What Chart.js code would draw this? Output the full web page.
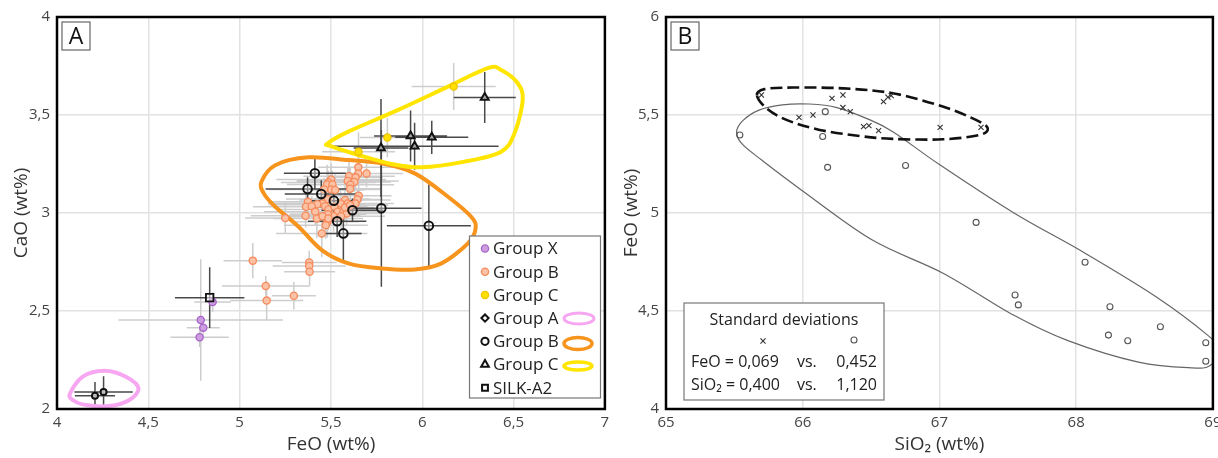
<!DOCTYPE html>
<html><head><meta charset="utf-8">
<script src="https://cdn.jsdelivr.net/npm/chart.js@4.4.0/dist/chart.umd.min.js"></script>
<style>
body{margin:0;background:#fff;width:1218px;height:458px;overflow:hidden;position:relative}
#wa{position:absolute;left:0;top:0;width:612px;height:458px}
#wb{position:absolute;left:612px;top:0;width:606px;height:458px}
</style></head>
<body>
<div id="wa"><canvas id="ca"></canvas></div>
<div id="wb"><canvas id="cb"></canvas></div>
<script>
// ---------- Tick labels ----------
const ticksAX=[4,4.5,5,5.5,6,6.5,7], labelsAX=['4','4,5','5','5,5','6','6,5','7'];
const ticksAY=[2,2.5,3,3.5,4], labelsAY=['2','2,5','3','3,5','4'];
const ticksBX=[65,66,67,68,69], labelsBX=['65','66','67','68','69'];
const ticksBY=[4,4.5,5,5.5,6], labelsBY=['4','4,5','5','5,5','6'];

// ---------- Panel A data (FeO, CaO wt%) ----------
const gxFeO=[4.852,4.787,4.801,4.781], gxCaO=[2.546,2.454,2.415,2.366];
const gxFeOErr=[0.10,0.45,0.09,0.16], gxCaOErr=[0.05,0.31,0.04,0.05];

const gbFeO=[5.650,5.695,5.650,5.599,5.635,5.592,5.628,5.606,5.605,5.501,5.486,5.479,5.508,5.501,5.523,5.463,5.652,5.645,5.634,5.577,5.592,5.552,5.483,5.455,5.425,5.374,5.363,5.395,5.468,5.486,5.519,5.537,5.568,5.586,5.514,5.483,5.414,5.423,5.454,5.481,5.472,5.361,5.250,5.450,5.486,5.577,5.605,5.555,5.072,5.143,5.148,5.297,5.381,5.381,5.383];
const gbCaO=[3.233,3.202,3.202,3.188,3.182,3.163,3.158,3.144,3.124,3.171,3.156,3.146,3.146,3.120,3.117,3.120,3.088,3.069,3.049,3.066,3.049,3.049,3.071,3.049,3.045,3.057,3.032,3.035,3.035,3.018,3.032,3.006,3.006,2.998,2.984,2.994,3.006,2.972,2.984,2.955,2.938,2.986,2.974,2.896,2.972,3.028,3.040,2.984,2.757,2.628,2.553,2.578,2.748,2.730,2.700];
const gbFeOErr=[0.22,0.20,0.18,0.25,0.15,0.28,0.20,0.24,0.17,0.30,0.26,0.22,0.19,0.27,0.16,0.30,0.18,0.14,0.21,0.25,0.20,0.28,0.23,0.30,0.26,0.22,0.29,0.24,0.20,0.27,0.18,0.22,0.15,0.19,0.26,0.21,0.28,0.24,0.20,0.17,0.23,0.30,0.22,0.25,0.19,0.16,0.21,0.24,0.16,0.24,0.20,0.12,0.15,0.20,0.14];
const gbCaOErr=[0.06,0.07,0.05,0.08,0.06,0.07,0.05,0.09,0.06,0.08,0.06,0.10,0.07,0.05,0.08,0.06,0.07,0.05,0.06,0.09,0.06,0.07,0.08,0.05,0.07,0.06,0.08,0.05,0.07,0.06,0.09,0.07,0.05,0.06,0.08,0.06,0.07,0.10,0.06,0.08,0.07,0.06,0.08,0.12,0.06,0.07,0.05,0.07,0.09,0.05,0.10,0.07,0.06,0.05,0.07];

const gcFeO=[6.172,5.809,5.651], gcCaO=[3.645,3.385,3.312];
const gcFeOErr=[0.23,0.15,0.20], gcCaOErr=[0.12,0.10,0.10];

const gaFeO=[4.208,4.255], gaCaO=[2.068,2.087];
const gaFeOErr=[0.11,0.16], gaCaOErr=[0.07,0.08];

const gbkFeO=[5.412,5.372,5.447,5.516,5.618,5.776,5.534,5.568,6.036];
const gbkCaO=[3.203,3.122,3.097,3.063,3.014,3.024,2.958,2.896,2.935];
const gbkFeOErr=[0.17,0.23,0.20,0.15,0.17,0.22,0.16,0.10,0.23];
const gbkCaOErr=[0.08,0.06,0.07,0.07,0.06,0.40,0.08,0.15,0.21];

const gckFeO=[6.342,5.936,6.052,5.774,5.958], gckCaO=[3.589,3.393,3.386,3.332,3.341];
const gckFeOErr=[0.17,0.20,0.20,0.15,0.46], gckCaOErr=[0.13,0.13,0.085,0.25,0.12];

const silkFeO=[4.836], silkCaO=[2.568], silkFeOErr=[0.19], silkCaOErr=[0.155];

// outlines (traced)
const pinkFeO=[4.072,4.141,4.259,4.377,4.446,4.396,4.286,4.159,4.086];
const pinkCaO=[2.080,2.165,2.195,2.165,2.106,2.046,2.015,2.020,2.046];
const orangeFeO=[5.119,5.195,5.377,5.595,5.777,5.959,6.141,6.268,6.292,6.250,6.105,5.959,5.777,5.595,5.450,5.323,5.195,5.132];
const orangeCaO=[3.159,3.244,3.284,3.270,3.253,3.202,3.083,2.981,2.921,2.845,2.743,2.712,2.717,2.743,2.811,2.930,3.032,3.100];
const yellowFeO=[5.483,5.595,5.868,6.141,6.359,6.432,6.523,6.550,6.505,6.432,6.232,5.995,5.832,5.650,5.495];
const yellowCaO=[3.356,3.415,3.526,3.645,3.739,3.730,3.662,3.577,3.407,3.313,3.262,3.233,3.250,3.296,3.342];

// ---------- Panel B data (SiO2, FeO wt%) ----------
const crossSiO2=[65.698,65.973,66.075,66.214,66.294,66.294,66.348,66.445,66.484,66.555,66.591,66.623,66.647,67.005,67.304];
const crossFeO=[5.602,5.488,5.500,5.585,5.602,5.538,5.517,5.441,5.446,5.420,5.568,5.591,5.599,5.437,5.437];
const circSiO2=[65.540,66.165,66.146,66.182,66.752,67.268,68.065,67.553,67.577,68.247,68.616,68.236,68.377,68.948,68.948];
const circFeO=[5.398,5.517,5.390,5.233,5.242,4.952,4.749,4.582,4.531,4.522,4.420,4.377,4.348,4.338,4.244];

const dashSiO2=[65.665,65.720,65.929,66.294,66.659,67.024,67.267,67.353,67.292,67.024,66.659,66.416,66.124,65.881,65.735];
const dashFeO=[5.600,5.632,5.640,5.636,5.611,5.543,5.475,5.432,5.398,5.376,5.378,5.393,5.424,5.475,5.534];
const solidSiO2=[65.516,65.560,65.680,65.850,66.050,66.250,66.465,66.659,67.000,67.545,68.065,68.584,68.961,69.050,68.980,68.844,68.455,67.935,67.545,67.026,66.506,65.987,65.700,65.560];
const solidFeO=[5.410,5.470,5.525,5.552,5.556,5.538,5.483,5.415,5.247,5.000,4.795,4.573,4.377,4.300,4.222,4.210,4.239,4.350,4.478,4.693,4.863,5.119,5.270,5.350];

const legendLabels=['Group X','Group B','Group C','Group A','Group B','Group C','SILK-A2'];
const stdTitle='Standard deviations';
const stdRows=[['FeO = 0,069','vs.','0,452'],['SiO\u2082 = 0,400','vs.','1,120']];

// ---------- helpers ----------
const F='"Open Sans","Noto Sans",sans-serif';
const pts=(xs,ys)=>xs.map((x,i)=>({x,y:ys[i]}));

function closedCurve(ctx,p){
  const n=p.length;
  ctx.beginPath();ctx.moveTo(p[0][0],p[0][1]);
  for(let i=0;i<n;i++){
    const p0=p[(i-1+n)%n],p1=p[i],p2=p[(i+1)%n],p3=p[(i+2)%n];
    ctx.bezierCurveTo(p1[0]+(p2[0]-p0[0])/6,p1[1]+(p2[1]-p0[1])/6,
                      p2[0]-(p3[0]-p1[0])/6,p2[1]-(p3[1]-p1[1])/6,p2[0],p2[1]);
  }
  ctx.closePath();ctx.stroke();
}
function marker(ctx,style,x,y,r,fill,stroke,lw){
  ctx.save();ctx.lineWidth=lw;ctx.strokeStyle=stroke;ctx.fillStyle=fill;ctx.beginPath();
  if(style==='circle'){ctx.arc(x,y,r,0,Math.PI*2);}
  else if(style==='triangle'){ctx.moveTo(x,y-r);ctx.lineTo(x+r*0.87,y+r*0.5);ctx.lineTo(x-r*0.87,y+r*0.5);ctx.closePath();}
  else if(style==='rect'){ctx.rect(x-r*0.7,y-r*0.7,r*1.4,r*1.4);}
  else if(style==='rectRot'){ctx.moveTo(x,y-r);ctx.lineTo(x+r,y);ctx.lineTo(x,y+r);ctx.lineTo(x-r,y);ctx.closePath();}
  else if(style==='crossRot'){const d=r*0.7;ctx.moveTo(x-d,y-d);ctx.lineTo(x+d,y+d);ctx.moveTo(x+d,y-d);ctx.lineTo(x-d,y+d);ctx.stroke();ctx.restore();return;}
  if(fill)ctx.fill();ctx.stroke();ctx.restore();
}

function axis(min,max,ticks,labels,title,isX,fit,tpad){
  return {type:'linear',min,max,
    afterBuildTicks(s){s.ticks=ticks.map(v=>({value:v}));},
    ticks:{callback:(v,i)=>labels[i],font:{family:F,size:15},color:'#444',padding:isX?5:7,maxRotation:0,autoSkip:false},
    grid:{color:'#e2e2e2',lineWidth:1.5,drawTicks:false},
    border:{display:false},
    title:{display:true,text:title,font:{family:F,size:19},color:'#333',padding:tpad},
    afterFit(s){if(isX)s.height=fit;else s.width=fit;s.paddingLeft=0;s.paddingRight=0;s.paddingTop=0;s.paddingBottom=0;}
  };
}

function overlay(errGroups,outlines,after){
  return {id:'overlay',
    beforeDatasetsDraw(chart){
      const {ctx,chartArea:a,scales:{x:sx,y:sy}}=chart;
      ctx.save();ctx.beginPath();ctx.rect(a.left,a.top,a.width,a.height);ctx.clip();
      errGroups.forEach(g=>{
        ctx.strokeStyle=g.color;ctx.lineWidth=1.5;ctx.beginPath();
        g.x.forEach((xv,i)=>{
          const yv=g.y[i],px=sx.getPixelForValue(xv),py=sy.getPixelForValue(yv);
          ctx.moveTo(sx.getPixelForValue(xv-g.xe[i]),py);ctx.lineTo(sx.getPixelForValue(xv+g.xe[i]),py);
          ctx.moveTo(px,sy.getPixelForValue(yv-g.ye[i]));ctx.lineTo(px,sy.getPixelForValue(yv+g.ye[i]));
        });
        ctx.stroke();
      });
      outlines.forEach(o=>{
        ctx.strokeStyle=o.color;ctx.lineWidth=o.width;ctx.setLineDash(o.dash||[]);
        closedCurve(ctx,o.x.map((xv,i)=>[sx.getPixelForValue(xv),sy.getPixelForValue(o.y[i])]));
      });
      ctx.restore();
    },
    afterDraw(chart){
      const {ctx,chartArea:a}=chart;
      ctx.save();ctx.strokeStyle='#000';ctx.lineWidth=2.5;ctx.setLineDash([]);
      ctx.strokeRect(a.left,a.top,a.width,a.height);ctx.restore();
      after(chart,ctx,a);
    }
  };
}
function panelLabel(ctx,a,txt){
  ctx.save();ctx.fillStyle='#fff';ctx.strokeStyle='#666';ctx.lineWidth=1.2;
  ctx.fillRect(a.left+5,a.top+5,28,28);ctx.strokeRect(a.left+5,a.top+5,28,28);
  ctx.fillStyle='#111';ctx.font='23px '+F;ctx.textAlign='center';ctx.textBaseline='middle';
  ctx.fillText(txt,a.left+19,a.top+20);ctx.restore();
}

// ---------- Chart A ----------
const errA=[
  {x:gbFeO,y:gbCaO,xe:gbFeOErr,ye:gbCaOErr,color:'#cdcdcd'},
  {x:gxFeO,y:gxCaO,xe:gxFeOErr,ye:gxCaOErr,color:'#cdcdcd'},
  {x:gcFeO,y:gcCaO,xe:gcFeOErr,ye:gcCaOErr,color:'#cdcdcd'},
  {x:gaFeO,y:gaCaO,xe:gaFeOErr,ye:gaCaOErr,color:'#4a4a4a'},
  {x:gbkFeO,y:gbkCaO,xe:gbkFeOErr,ye:gbkCaOErr,color:'#4a4a4a'},
  {x:gckFeO,y:gckCaO,xe:gckFeOErr,ye:gckCaOErr,color:'#4a4a4a'},
  {x:silkFeO,y:silkCaO,xe:silkFeOErr,ye:silkCaOErr,color:'#4a4a4a'}
];
const outA=[
  {x:pinkFeO,y:pinkCaO,color:'#f7a6f2',width:4},
  {x:orangeFeO,y:orangeCaO,color:'#f7941d',width:4},
  {x:yellowFeO,y:yellowCaO,color:'#ffe500',width:4}
];
const legStyles=[
  ['circle',3.6,'#cc9ee0','#a863c8',1.3],['circle',3.6,'#fcc2a6','#f58a5c',1.3],['circle',3.6,'#ffe100','#f2c200',1.3],
  ['rectRot',3.6,'#fff','#111',2],['circle',3.6,'#fff','#111',2],['triangle',4.4,'#fff','#111',2],['rect',4.2,'#fff','#111',2]
];
new Chart(document.getElementById('ca'),{
  type:'scatter',
  data:{datasets:[
    {data:pts(gbFeO,gbCaO),pointRadius:3.6,backgroundColor:'#fcc2a6',borderColor:'#f58a5c',borderWidth:1.3,order:6},
    {data:pts(gxFeO,gxCaO),pointRadius:3.6,backgroundColor:'#cc9ee0',borderColor:'#a863c8',borderWidth:1.3,order:5},
    {data:pts(gcFeO,gcCaO),pointRadius:3.6,backgroundColor:'#ffe100',borderColor:'#f2c200',borderWidth:1.3,order:5},
    {data:pts(gaFeO,gaCaO),pointRadius:3,backgroundColor:'rgba(255,255,255,0.6)',borderColor:'#111',borderWidth:2,order:1},
    {data:pts(gbkFeO,gbkCaO),pointRadius:4.3,backgroundColor:'rgba(255,255,255,0.35)',borderColor:'#111',borderWidth:2,order:1},
    {data:pts(gckFeO,gckCaO),pointStyle:'triangle',pointRadius:4.5,backgroundColor:'rgba(255,255,255,0.5)',borderColor:'#111',borderWidth:2,order:1},
    {data:pts(silkFeO,silkCaO),pointStyle:'rect',pointRadius:5.3,backgroundColor:'rgba(255,255,255,0.5)',borderColor:'#111',borderWidth:1.8,order:1}
  ]},
  options:{responsive:true,maintainAspectRatio:false,animation:false,
    layout:{padding:{top:17,right:5,left:0,bottom:0}},
    plugins:{legend:{display:false},tooltip:{enabled:false}},
    scales:{x:axis(4,7,ticksAX,labelsAX,'FeO (wt%)',true,49,{top:0,bottom:2}),
            y:axis(2,4,ticksAY,labelsAY,'CaO (wt%)',false,57,{top:10,bottom:0})}
  },
  plugins:[overlay(errA,outA,(chart,ctx,a)=>{
    panelLabel(ctx,a,'A');
    ctx.save();
    const bx=469.5,by=236,bw=131,bh=162;
    ctx.fillStyle='#fff';ctx.fillRect(bx,by,bw,bh);
    ctx.strokeStyle='#777';ctx.lineWidth=1.2;ctx.strokeRect(bx,by,bw,bh);
    ctx.font='17px '+F;ctx.textBaseline='middle';ctx.fillStyle='#222';
    legendLabels.forEach((t,i)=>{
      const y=248.5+i*23.2,s=legStyles[i];
      marker(ctx,s[0],485,y,s[1],s[2],s[3],s[4]);
      ctx.fillStyle='#222';ctx.fillText(t,493,y+1);
    });
    const icons=[[579,318.5,15,5.5,'#f7a6f2',3],[578,343.5,14,6,'#f7941d',3.5],[578,366,14,4,'#ffe500',3.5]];
    icons.forEach(c=>{ctx.beginPath();ctx.strokeStyle=c[4];ctx.lineWidth=c[5];ctx.ellipse(c[0],c[1],c[2],c[3],0,0,Math.PI*2);ctx.stroke();});
    ctx.restore();
  })]
});

// ---------- Chart B ----------
const outB=[
  {x:solidSiO2,y:solidFeO,color:'#666',width:1.2},
  {x:dashSiO2,y:dashFeO,color:'#111',width:2.6,dash:[12,5]}
];
new Chart(document.getElementById('cb'),{
  type:'scatter',
  data:{datasets:[
    {data:pts(crossSiO2,crossFeO),pointStyle:'crossRot',pointRadius:3.6,borderColor:'#333',borderWidth:1.1},
    {data:pts(circSiO2,circFeO),pointStyle:'circle',pointRadius:3,backgroundColor:'rgba(255,255,255,0)',borderColor:'#555',borderWidth:1.1}
  ]},
  options:{responsive:true,maintainAspectRatio:false,animation:false,
    layout:{padding:{top:17,right:2,left:0,bottom:0}},
    plugins:{legend:{display:false},tooltip:{enabled:false}},
    scales:{x:axis(65,69,ticksBX,labelsBX,'SiO\u2082 (wt%)',true,49,{top:0,bottom:2}),
            y:axis(4,6,ticksBY,labelsBY,'FeO (wt%)',false,54,{top:8,bottom:0})}
  },
  plugins:[overlay([],outB,(chart,ctx,a)=>{
    panelLabel(ctx,a,'B');
    ctx.save();
    const bx=684-612,by=303,bw=200,bh=97;
    ctx.fillStyle='#fff';ctx.fillRect(bx,by,bw,bh);
    ctx.strokeStyle='#777';ctx.lineWidth=1.2;ctx.strokeRect(bx,by,bw,bh);
    ctx.fillStyle='#222';ctx.font='16px '+F;ctx.textBaseline='middle';
    ctx.textAlign='center';ctx.fillText(stdTitle,bx+bw/2,320);
    marker(ctx,'crossRot',763-612,341,3.6,null,'#333',1.1);
    marker(ctx,'circle',854-612,340,3,'rgba(0,0,0,0)','#555',1.1);
    stdRows.forEach((r,i)=>{
      const y=362+i*23;
      ctx.textAlign='left';ctx.fillText(r[0],691-612,y);ctx.fillText(r[1],797-612,y);
      ctx.textAlign='right';ctx.fillText(r[2],877-612,y);
    });
    ctx.restore();
  })]
});
</script>
</body></html>
